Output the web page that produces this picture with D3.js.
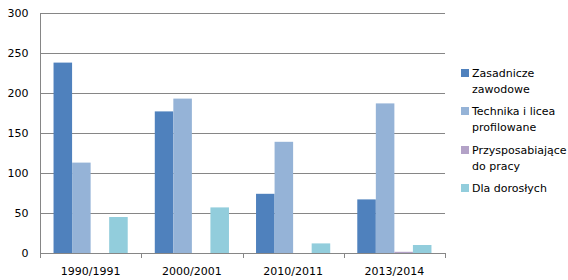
<!DOCTYPE html>
<html><head><meta charset="utf-8">
<script src="https://cdn.jsdelivr.net/npm/d3@7/dist/d3.min.js"></script>
<style>body{margin:0;background:#fff}svg{display:block}</style>
</head><body>
<svg id="c" width="568" height="280"></svg>
<script>
const categories = ["1990/1991", "2000/2001", "2010/2011", "2013/2014"];
const seriesNames = ["Zasadnicze zawodowe", "Technika i licea profilowane", "Przysposabiające do pracy", "Dla dorosłych"];
const legendLines = [["Zasadnicze", "zawodowe"], ["Technika i licea", "profilowane"], ["Przysposabiające", "do pracy"], ["Dla dorosłych"]];
const zasadnicze = [238, 177, 74, 67];
const technika = [113, 193, 139, 187];
const przysposabiajace = [0, 0, 0, 1.5];
const dorosli = [45, 57, 12, 10];
const yTicks = [0, 50, 100, 150, 200, 250, 300];
const colors = ["#4F81BD", "#95B3D7", "#B3A2C7", "#92CDDC"];
const series = [zasadnicze, technika, przysposabiajace, dorosli];

const svg = d3.select("#c");
const font = "'DejaVu Sans', Verdana, sans-serif";
const fs = "11px";
const L = 40, R = 445, T = 13, B = 253;
const x = d3.scaleBand().domain(categories).range([L, R]).paddingInner(0).paddingOuter(0);
const y = d3.scaleLinear().domain([0, 300]).range([B, T]);
const inner = d3.scaleBand().domain(d3.range(series.length)).range([0, x.bandwidth()]).paddingOuter(0.73).paddingInner(0);

// gridlines
svg.append("g").selectAll("line").data(yTicks.slice(1)).join("line")
  .attr("x1", L).attr("x2", R).attr("y1", d => Math.round(y(d)) + 0.5).attr("y2", d => Math.round(y(d)) + 0.5)
  .attr("stroke", "#868686").attr("stroke-width", 1);

// bars
series.forEach((vals, si) => {
  svg.append("g").selectAll("rect").data(vals).join("rect")
    .attr("x", (d, i) => x(categories[i]) + inner(si))
    .attr("width", inner.bandwidth())
    .attr("y", d => y(d))
    .attr("height", d => B - y(d))
    .attr("fill", colors[si]);
});

// y axis
const ya = svg.append("g").attr("transform", `translate(${L + 0.5},0)`)
  .call(d3.axisLeft(y).tickValues(yTicks).tickSize(0).tickPadding(12));
ya.select(".domain").attr("stroke", "#868686").attr("d", `M0,${T}V${B + 0.5}`);
ya.selectAll("text").attr("font-family", font).attr("font-size", fs).attr("fill", "#000");

// x axis
const xa = svg.append("g").attr("transform", `translate(0,${B + 0.5})`)
  .call(d3.axisBottom(x).tickSize(0).tickPadding(14));
xa.select(".domain").attr("stroke", "#868686").attr("d", `M${L},0H${R + 0.5}`);
xa.selectAll("text").attr("font-family", font).attr("font-size", fs).attr("fill", "#000");
// boundary ticks
const bounds = categories.map(c => x(c)).concat([R]);
svg.append("g").selectAll("line").data(bounds).join("line")
  .attr("x1", d => Math.round(d) + 0.5).attr("x2", d => Math.round(d) + 0.5)
  .attr("y1", B).attr("y2", B + 5).attr("stroke", "#868686");

// legend
const legY = [73, 111, 150, 188];
legendLines.forEach((lines, i) => {
  const g = svg.append("g");
  g.append("rect").attr("x", 461).attr("y", legY[i] - 4).attr("width", 8).attr("height", 8).attr("fill", colors[i]);
  lines.forEach((t, j) => {
    g.append("text").attr("x", 472).attr("y", legY[i] + j * 16).attr("dy", "0.35em")
      .attr("font-family", font).attr("font-size", fs).attr("fill", "#000").text(t);
  });
});
</script>
</body></html>
